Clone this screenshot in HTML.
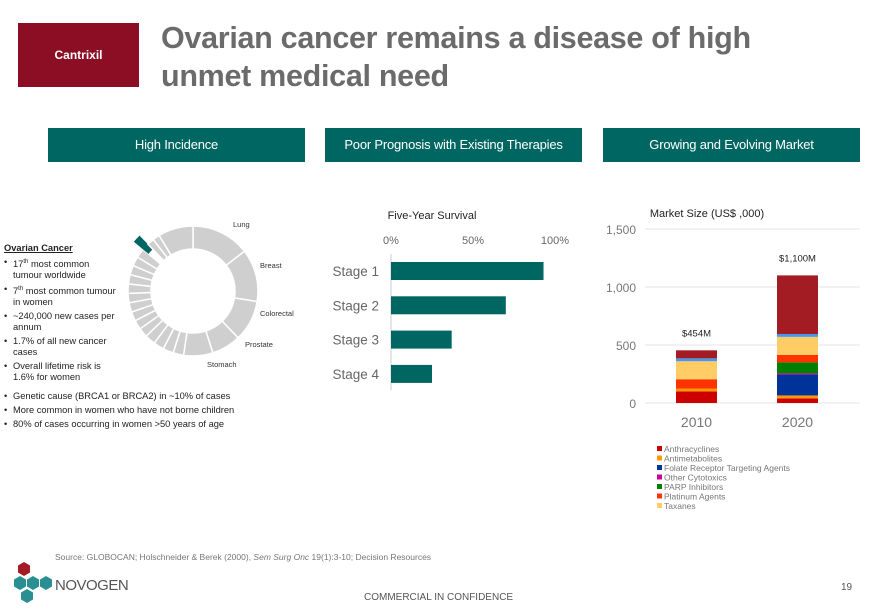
<!DOCTYPE html>
<html><head><meta charset="utf-8"><style>
body{margin:0;width:880px;height:609px;background:#fff;position:relative;overflow:hidden;font-family:"Liberation Sans",sans-serif;color:#333}
.abs{position:absolute}
.hdr{position:absolute;top:128px;height:34px;background:#006661;color:#fff;font-size:13px;line-height:34px;text-align:center;letter-spacing:-0.2px}
ul{margin:0;padding:0;list-style:none}
li{position:relative;padding-left:9px;margin-bottom:3px}
li:before{content:"•";position:absolute;left:0}
</style></head><body>
<div class="abs" style="left:18px;top:23px;width:121px;height:64px;background:#8b0e24;color:#fff;font-weight:bold;font-size:12px;line-height:64px;text-align:center">Cantrixil</div>
<div class="abs" style="left:161px;top:19px;width:640px;font-size:30.5px;line-height:38px;font-weight:bold;color:#6b6b6b;letter-spacing:-0.3px">Ovarian cancer remains a disease of high unmet medical need</div>
<div class="hdr" style="left:48px;width:257px">High Incidence</div>
<div class="hdr" style="left:325px;width:257px">Poor Prognosis with Existing Therapies</div>
<div class="hdr" style="left:603px;width:257px">Growing and Evolving Market</div>

<div class="abs" style="left:4px;top:243px;width:112px;font-size:9.3px;line-height:11px;color:#222">
<div style="font-weight:bold;text-decoration:underline;margin-bottom:3px">Ovarian Cancer</div>
<ul><li>17<sup style="font-size:6px">th</sup> most common tumour worldwide</li><li>7<sup style="font-size:6px">th</sup> most common tumour in women</li><li>~240,000 new cases per annum</li><li>1.7% of all new cancer cases</li><li>Overall lifetime risk is 1.6% for women</li></ul></div>
<div class="abs" style="left:4px;top:391px;width:260px;font-size:9.3px;line-height:11px;color:#222">
<ul><li>Genetic cause (BRCA1 or BRCA2) in ~10% of cases</li><li>More common in women who have not borne children</li><li>80% of cases occurring in women &gt;50 years of age</li></ul></div>

<svg class="abs" style="left:0;top:0" width="880" height="609" id="svg" font-family="Liberation Sans, sans-serif">
<g id="donut"></g>
<text x="233" y="227" font-size="7.5" fill="#333">Lung</text>
<text x="260" y="268" font-size="7.5" fill="#333">Breast</text>
<text x="260" y="316" font-size="7.5" fill="#333">Colorectal</text>
<text x="245" y="347" font-size="7.5" fill="#333">Prostate</text>
<text x="207" y="367" font-size="7.5" fill="#333">Stomach</text>
<text x="432" y="219" font-size="11" fill="#222" text-anchor="middle">Five-Year Survival</text>
<g id="surv"></g>
<text x="707" y="217" font-size="11" fill="#222" text-anchor="middle">Market Size (US$ ,000)</text>
<g id="mkt"></g>
</svg>

<div class="abs" style="left:55px;top:552px;font-size:8.5px;color:#777">Source: GLOBOCAN; Holschneider &amp; Berek (2000), <i>Sem Surg Onc</i> 19(1):3-10; Decision Resources</div>
<svg class="abs" style="left:12px;top:562px" width="44" height="44">
<polygon points="12,0 18,3.5 18,10.5 12,14 6,10.5 6,3.5" fill="#a31b23"/>
<polygon points="8,14 14,17.5 14,24.5 8,28 2,24.5 2,17.5" fill="#2a8f93"/>
<polygon points="21,14 27,17.5 27,24.5 21,28 15,24.5 15,17.5" fill="#2a8f93"/>
<polygon points="34,14 40,17.5 40,24.5 34,28 28,24.5 28,17.5" fill="#2a8f93"/>
<polygon points="15,27 21,30.5 21,37.5 15,41 9,37.5 9,30.5" fill="#2a8f93"/>
</svg>
<div class="abs" style="left:55px;top:577px;font-size:15px;color:#555;letter-spacing:-0.5px">NOVOGEN</div>
<div class="abs" style="left:364px;top:592px;font-size:10px;color:#555">COMMERCIAL IN CONFIDENCE</div>
<div class="abs" style="left:841px;top:582px;font-size:10px;color:#555">19</div>

<script>
const NS="http://www.w3.org/2000/svg";
function mk(p,t,a){const e=document.createElementNS(NS,t);for(const k in a)e.setAttribute(k,a[k]);p.appendChild(e);return e;}
const donutNames=["Lung","Breast","Colorectal","Prostate","Stomach","s1","s2","s3","s4","s5","s6","s7","s8","s9","s10","s11","s12","s13","s14","Ovarian","s15","s16","Other"];
const donutValues=[50,45,35,25,25,9,9,9,9,8,8,8,8,8,8,8,8,8,8,6,6,6,30];
const dg=document.getElementById("donut");
const cx=193,cy=291,R=65,r=42;
let ang=0;const tot=donutValues.reduce((a,b)=>a+b,0);
function pt(a,rad){const t=(a-90)*Math.PI/180;return [cx+rad*Math.cos(t),cy+rad*Math.sin(t)];}
donutValues.forEach((v,i)=>{
  const a0=ang,a1=ang+v/tot*360;ang=a1;
  const isOv=donutNames[i]==="Ovarian";
  const Ro=isOv?R+12:R, ri=isOv?r+16:r;
  const p1=pt(a0,Ro),p2=pt(a1,Ro),p3=pt(a1,ri),p4=pt(a0,ri);
  const lg=(a1-a0)>180?1:0;
  const el=mk(dg,"path",{d:`M${p1}A${Ro},${Ro} 0 ${lg} 1 ${p2}L${p3}A${ri},${ri} 0 ${lg} 0 ${p4}Z`,fill:isOv?"#006661":"#cfcfcf",stroke:"#fff","stroke-width":isOv?0:1.5});
  
  
});
const stages=["Stage 1","Stage 2","Stage 3","Stage 4"];
const survival=[93,70,37,25];
const survTicks=[0,50,100];
const sg=document.getElementById("surv");
const sx=v=>391+v*1.64;
survTicks.forEach(t=>{const e=mk(sg,"text",{x:sx(t),y:244,"font-size":11,fill:"#666","text-anchor":"middle"});e.textContent=t+"%";

});
mk(sg,"line",{x1:391,x2:391,y1:254,y2:390,stroke:"#ccc"});
stages.forEach((s,i)=>{const y=262+i*34.3;
 const b=mk(sg,"rect",{x:391,y:y,width:sx(survival[i])-391,height:18,fill:"#006661"});
 
 
 const t=mk(sg,"text",{x:379,y:y+14,"font-size":13.5,fill:"#666","text-anchor":"end"});t.textContent=s;
 
 });
const years=["2010","2020"];
const mktSeries=["Anthracyclines","Antimetabolites","Folate Receptor Targeting Agents","Other  Cytotoxics","PARP Inhibitors","Platinum Agents","Taxanes","Other (light blue)","Other (dark red)"];
const mktColors=["#cc0000","#ff9900","#003399","#cc0099","#008000","#ff3300","#ffcc66","#4499ee","#a31b23"];
const v2010=[100,25,0,0,0,80,155,25,69];
const v2020=[40,25,180,10,95,65,155,25,505];
const totals=["$454M","$1,100M"];
const mktTicks=[0,500,1000,1500];
const mg=document.getElementById("mkt");
const my=v=>403-v*0.116;
mktTicks.forEach(t=>{mk(mg,"line",{x1:645,x2:860,y1:my(t),y2:my(t),stroke:"#e6e6e6"});
 const e=mk(mg,"text",{x:636,y:my(t)+5,"font-size":12,fill:"#777","text-anchor":"end"});e.textContent=t.toLocaleString("en-US");
 
 });
[v2010,v2020].forEach((vals,j)=>{const x=j?777:676;let acc=0;
 vals.forEach((v,k)=>{if(!v)return;const r=mk(mg,"rect",{x:x,y:my(acc+v),width:41,height:v*0.116,fill:mktColors[k]});acc+=v;
  
  });
 const t=mk(mg,"text",{x:x+20.5,y:my(acc)-14,"font-size":9.5,fill:"#222","text-anchor":"middle"});t.textContent=totals[j];
 
 
 const yl=mk(mg,"text",{x:x+20.5,y:427,"font-size":14,fill:"#777","text-anchor":"middle"});yl.textContent=years[j];
 
 });
mktSeries.slice(0,7).forEach((s,k)=>{const y=447+k*9.5;
 const r=mk(mg,"rect",{x:657,y:y-1,width:5,height:5,fill:mktColors[k]});
 
 
 const t=mk(mg,"text",{x:664,y:y+5,"font-size":8.5,fill:"#777"});t.textContent=s;
 
 });
</script>
</body></html>
